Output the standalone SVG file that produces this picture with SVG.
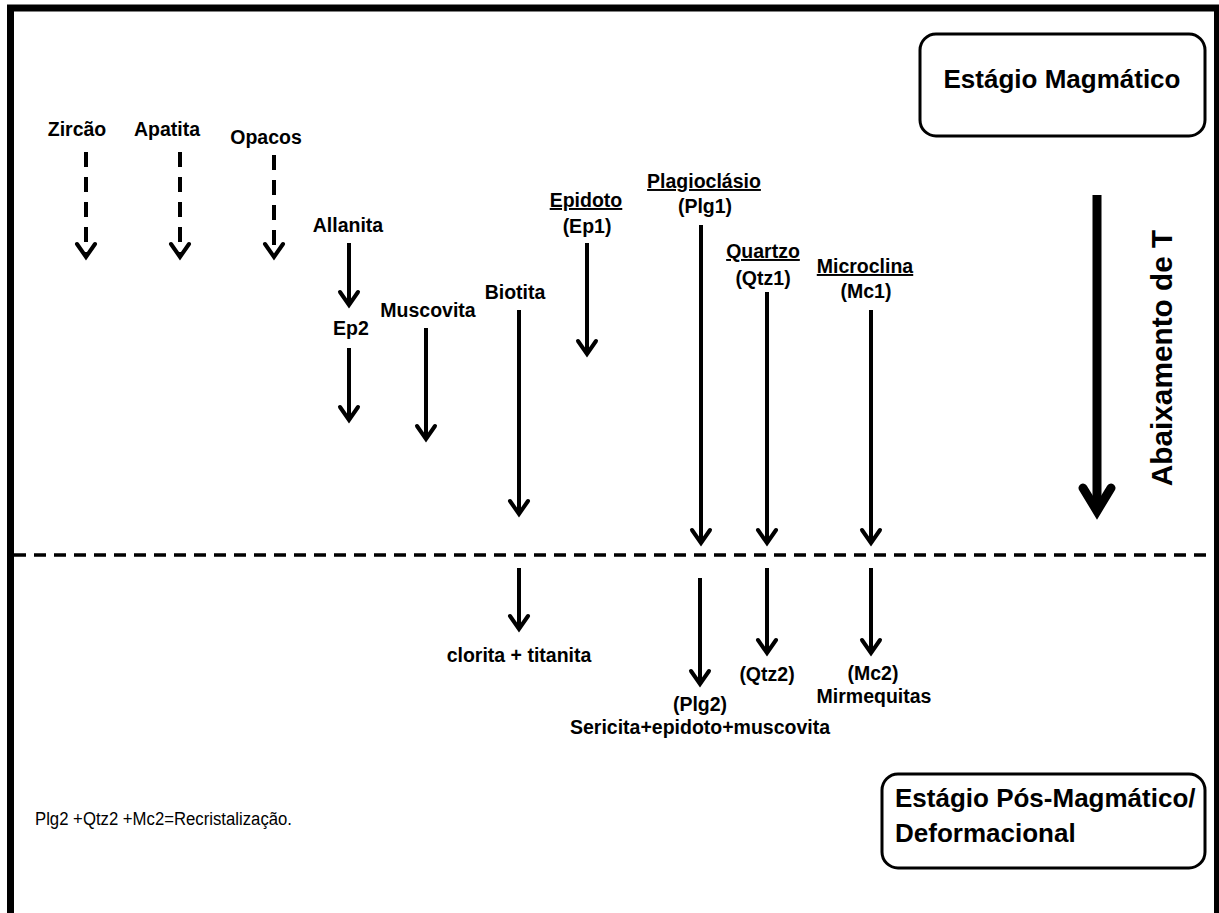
<svg xmlns="http://www.w3.org/2000/svg" width="1219" height="913" viewBox="0 0 1219 913">
<style>
.lbl{font-family:"Liberation Sans",Arial,sans-serif;font-weight:bold;font-size:19.5px;fill:#000;text-anchor:middle}
.ul{text-decoration:underline}
.stage{font-family:"Liberation Sans",Arial,sans-serif;font-weight:bold;font-size:26px;fill:#000}
.box{fill:#fff;stroke:#000;stroke-width:3}
.arr{stroke:#000;stroke-width:4;fill:none;marker-end:url(#ah)}
.dash{stroke:#000;stroke-width:4;fill:none;stroke-dasharray:15 10;marker-end:url(#ah)}
</style>
<defs>
<marker id="ah" markerUnits="userSpaceOnUse" viewBox="-20 -15 25 30" markerWidth="25" markerHeight="30" refX="0" refY="0" orient="auto" overflow="visible">
<path d="M-13,-9 L0,0 L-13,9" fill="none" stroke="#000" stroke-width="4" stroke-linecap="round" stroke-linejoin="miter"/>
</marker>
</defs>
<rect x="0" y="0" width="1219" height="913" fill="#fff"/>
<rect id="frame" x="10.5" y="8" width="1207" height="1000" fill="none" stroke="#000" stroke-width="7"/>

<g id="connectors">
<line class="dash" x1="86" y1="152" x2="86" y2="257"/>
<line class="dash" x1="180" y1="152" x2="180" y2="257"/>
<line class="dash" x1="274" y1="155" x2="274" y2="257"/>
<line class="arr" x1="349" y1="243" x2="349" y2="305"/>
<line class="arr" x1="349" y1="348" x2="349" y2="420"/>
<line class="arr" x1="426" y1="328" x2="426" y2="439"/>
<line class="arr" x1="519" y1="310" x2="519" y2="514"/>
<line class="arr" x1="587" y1="243" x2="587" y2="354"/>
<line class="arr" x1="701" y1="225" x2="701" y2="543"/>
<line class="arr" x1="767" y1="292" x2="767" y2="543"/>
<line class="arr" x1="871" y1="310" x2="871" y2="543"/>
<line class="arr" x1="519" y1="568" x2="519" y2="629"/>
<line class="arr" x1="700" y1="578" x2="700" y2="684"/>
<line class="arr" x1="767" y1="568" x2="767" y2="653"/>
<line class="arr" x1="871" y1="568" x2="871" y2="653"/>
<line id="boundary" x1="14" y1="555" x2="1213" y2="555" stroke="#000" stroke-width="3.5" stroke-dasharray="12 8"/>
<g id="cooling-arrow">
<line x1="1097" y1="195" x2="1097" y2="508" stroke="#000" stroke-width="9"/>
<path d="M1083,488 L1097,511 L1111,488" fill="none" stroke="#000" stroke-width="9" stroke-linecap="round" stroke-linejoin="miter"/>
</g>
</g>

<g id="zircao"><text class="lbl" x="77" y="136">Zircão</text></g>
<g id="apatita"><text class="lbl" x="167" y="136">Apatita</text></g>
<g id="opacos"><text class="lbl" x="266" y="144">Opacos</text></g>
<g id="allanita"><text class="lbl" x="348" y="232">Allanita</text></g>
<g id="ep2"><text class="lbl" x="351" y="335">Ep2</text></g>
<g id="muscovita"><text class="lbl" x="428" y="317">Muscovita</text></g>
<g id="biotita"><text class="lbl" x="515" y="299">Biotita</text></g>
<g id="epidoto"><text class="lbl ul" x="586" y="207">Epidoto</text><text class="lbl" x="587" y="233">(Ep1)</text></g>
<g id="plagioclasio"><text class="lbl ul" x="704" y="188">Plagioclásio</text><text class="lbl" x="705" y="213">(Plg1)</text></g>
<g id="quartzo"><text class="lbl ul" x="763" y="258">Quartzo</text><text class="lbl" x="763" y="285">(Qtz1)</text></g>
<g id="microclina"><text class="lbl ul" x="865" y="273">Microclina</text><text class="lbl" x="866" y="298">(Mc1)</text></g>
<g id="clorita"><text class="lbl" x="519" y="662">clorita + titanita</text></g>
<g id="qtz2"><text class="lbl" x="767" y="681">(Qtz2)</text></g>
<g id="mc2"><text class="lbl" x="873" y="680">(Mc2)</text><text class="lbl" x="874" y="703">Mirmequitas</text></g>
<g id="plg2"><text class="lbl" x="700" y="711">(Plg2)</text><text class="lbl" x="700" y="734">Sericita+epidoto+muscovita</text></g>

<g id="estagio-magmatico">
<rect class="box" x="920" y="34" width="285" height="102" rx="16"/>
<text class="stage" x="1062" y="88" text-anchor="middle">Estágio Magmático</text>
</g>
<g id="estagio-pos">
<rect class="box" x="882" y="774" width="323" height="94" rx="16"/>
<text class="stage" x="895" y="807">Estágio Pós-Magmático/</text>
<text class="stage" x="895" y="842">Deformacional</text>
</g>
<g id="abaixamento">
<text transform="translate(1172,358) rotate(-90)" x="0" y="0" text-anchor="middle" font-family="Liberation Sans, Arial, sans-serif" font-weight="bold" font-size="29.8" fill="#000">Abaixamento de T</text>
</g>
<g id="nota">
<text x="35" y="825" font-family="Liberation Sans, Arial, sans-serif" font-size="18" textLength="257" lengthAdjust="spacingAndGlyphs" fill="#000">Plg2 +Qtz2 +Mc2=Recristalização.</text>
</g>
</svg>
